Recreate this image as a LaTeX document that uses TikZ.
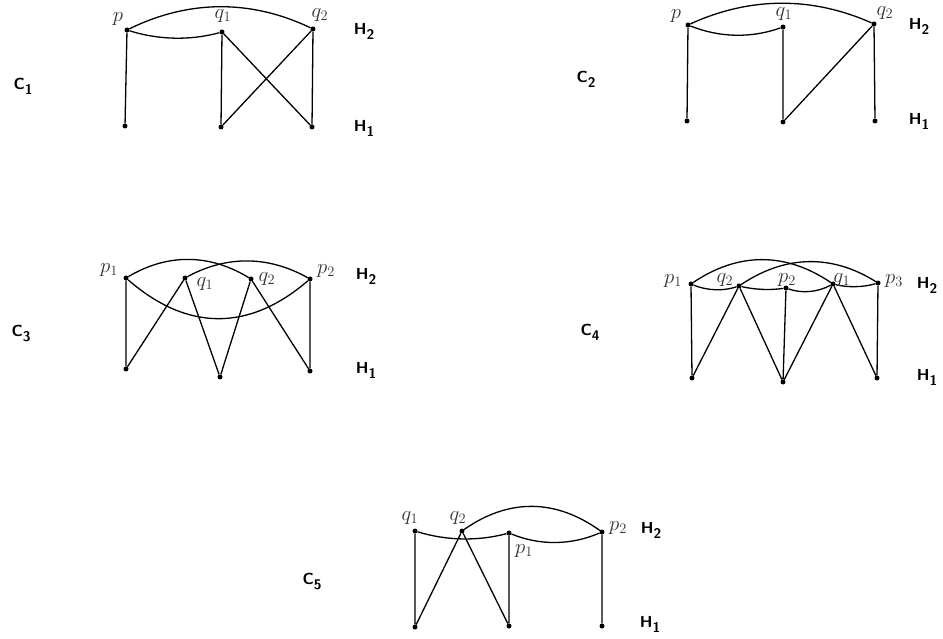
\documentclass[tikz,border=0pt]{standalone}
\usetikzlibrary{calc}
\begin{document}
\begin{tikzpicture}[x=1pt,y=-1pt,
  dot/.style={circle,fill=black,inner sep=0pt,minimum size=5pt},
  edge/.style={line width=1.3pt,black},
  lab/.style={text=black!80,inner sep=0pt,font=\fontsize{20}{22}\selectfont},
  hl/.style={inner sep=0pt,font=\sffamily\bfseries\fontsize{16}{18}\selectfont}]
\useasboundingbox (0,0) rectangle (943,639);
\newcommand{\Hlab}[1]{H\raisebox{-5pt}{\fontsize{14}{16}\selectfont #1}}
\newcommand{\Clab}[1]{C\raisebox{-5pt}{\fontsize{14}{16}\selectfont #1}}

% ---------- C1 ----------
\node[dot] (c1p) at (127,30) {};
\node[dot] (c1q1) at (222,32) {};
\node[dot] (c1q2) at (313,29) {};
\node[dot] (c1a) at (125,126) {};
\node[dot] (c1b) at (221,127) {};
\node[dot] (c1c) at (312,127) {};
\draw[edge] (c1p) .. controls ($(c1p)!1/3!(c1q1)+(0,9.3)$) and ($(c1p)!2/3!(c1q1)+(0,9.3)$) .. (c1q1);
\draw[edge] (c1p) .. controls ($(c1p)!1/3!(c1q2)+(0,-30)$) and ($(c1p)!2/3!(c1q2)+(0,-30)$) .. (c1q2);
\draw[edge] (c1p)--(c1a) (c1q1)--(c1b) (c1q2)--(c1c) (c1q1)--(c1c) (c1q2)--(c1b);
\node[lab] (c1pl) at (118,19) {$p$};
\node[lab] (c1q1l) at (223,16) {$q_1$};
\node[lab] (c1q2l) at (320,15) {$q_2$};
\node[hl] (c1h2) at (364,31) {\Hlab{2}};
\node[hl] (c1h1) at (364,128) {\Hlab{1}};
\node[hl] (c1c) at (23,86) {\Clab{1}};

% ---------- C2 ----------
\node[dot] (c2p) at (688,25) {};
\node[dot] (c2q1) at (783,27) {};
\node[dot] (c2q2) at (874,24) {};
\node[dot] (c2a) at (687,121) {};
\node[dot] (c2b) at (783,122) {};
\node[dot] (c2c) at (875,121) {};
\draw[edge] (c2p) .. controls ($(c2p)!1/3!(c2q1)+(0,12)$) and ($(c2p)!2/3!(c2q1)+(0,12)$) .. (c2q1);
\draw[edge] (c2p) .. controls ($(c2p)!1/3!(c2q2)+(0,-28)$) and ($(c2p)!2/3!(c2q2)+(0,-28)$) .. (c2q2);
\draw[edge] (c2p)--(c2a) (c2q1)--(c2b) (c2q2)--(c2c) (c2q2)--(c2b);
\node[lab] (c2pl) at (676,16) {$p$};
\node[lab] (c2q1l) at (784,14) {$q_1$};
\node[lab] (c2q2l) at (885,13) {$q_2$};
\node[hl] (c2h2) at (919,26) {\Hlab{2}};
\node[hl] (c2h1) at (919,121) {\Hlab{1}};
\node[hl] (c2cl) at (586,79) {\Clab{2}};

% ---------- C3 ----------
\node[dot] (c3p1) at (126,278) {};
\node[dot] (c3q1) at (185,278) {};
\node[dot] (c3q2) at (251,279) {};
\node[dot] (c3p2) at (310,279) {};
\node[dot] (c3a) at (126,369) {};
\node[dot] (c3b) at (220,377) {};
\node[dot] (c3c) at (310,371) {};
\draw[edge] (c3p1) .. controls ($(c3p1)!1/3!(c3q2)+(0,-25)$) and ($(c3p1)!2/3!(c3q2)+(0,-25)$) .. (c3q2);
\draw[edge] (c3q1) .. controls ($(c3q1)!1/3!(c3p2)+(0,-23)$) and ($(c3q1)!2/3!(c3p2)+(0,-23)$) .. (c3p2);
\draw[edge] (c3p1) .. controls ($(c3p1)!1/3!(c3p2)+(0,53)$) and ($(c3p1)!2/3!(c3p2)+(0,53)$) .. (c3p2);
\draw[edge] (c3p1)--(c3a) (c3p2)--(c3c) (c3q1)--(c3a) (c3q1)--(c3b) (c3q2)--(c3b) (c3q2)--(c3c);
\node[lab] (c3p1l) at (109,270) {$p_1$};
\node[lab] (c3q1l) at (205,284) {$q_1$};
\node[lab] (c3q2l) at (267,279) {$q_2$};
\node[lab] (c3p2l) at (326,271) {$p_2$};
\node[hl] (c3h2) at (366,276) {\Hlab{2}};
\node[hl] (c3h1) at (366,370) {\Hlab{1}};
\node[hl] (c3cl) at (21,334) {\Clab{3}};

% ---------- C4 ----------
\node[dot] (c4p1) at (691,284) {};
\node[dot] (c4q2) at (739,286) {};
\node[dot] (c4p2) at (786,288) {};
\node[dot] (c4q1) at (833,284) {};
\node[dot] (c4p3) at (878,283) {};
\node[dot] (c4a) at (692,378) {};
\node[dot] (c4b) at (783,382) {};
\node[dot] (c4c) at (877,378) {};
\draw[edge] (c4p1) .. controls ($(c4p1)!1/3!(c4q1)+(0,-32)$) and ($(c4p1)!2/3!(c4q1)+(0,-32)$) .. (c4q1);
\draw[edge] (c4q2) .. controls ($(c4q2)!1/3!(c4p3)+(0,-30)$) and ($(c4q2)!2/3!(c4p3)+(0,-30)$) .. (c4p3);
\draw[edge] (c4p1) .. controls ($(c4p1)!1/3!(c4q2)+(0,6)$) and ($(c4p1)!2/3!(c4q2)+(0,6)$) .. (c4q2);
\draw[edge] (c4q2) .. controls ($(c4q2)!1/3!(c4p2)+(0,3)$) and ($(c4q2)!2/3!(c4p2)+(0,3)$) .. (c4p2);
\draw[edge] (c4p2) .. controls ($(c4p2)!1/3!(c4q1)+(0,7)$) and ($(c4p2)!2/3!(c4q1)+(0,7)$) .. (c4q1);
\draw[edge] (c4q1) .. controls ($(c4q1)!1/3!(c4p3)+(0,4)$) and ($(c4q1)!2/3!(c4p3)+(0,4)$) .. (c4p3);
\draw[edge] (c4p1)--(c4a) (c4p2)--(c4b) (c4p3)--(c4c) (c4q2)--(c4a) (c4q2)--(c4b) (c4q1)--(c4b) (c4q1)--(c4c);
\node[lab] (c4p1l) at (673,281) {$p_1$};
\node[lab] (c4q2l) at (725,280) {$q_2$};
\node[lab] (c4p2l) at (787,280) {$p_2$};
\node[lab] (c4q1l) at (842,280) {$q_1$};
\node[lab] (c4p3l) at (894,281) {$p_3$};
\node[hl] (c4h2) at (927,285) {\Hlab{2}};
\node[hl] (c4h1) at (927,377) {\Hlab{1}};
\node[hl] (c4cl) at (590,332) {\Clab{4}};

% ---------- C5 ----------
\node[dot] (c5q1) at (415,531) {};
\node[dot] (c5q2) at (462,531) {};
\node[dot] (c5p1) at (509,533) {};
\node[dot] (c5p2) at (602,532) {};
\node[dot] (c5a) at (415,627) {};
\node[dot] (c5b) at (509,626) {};
\node[dot] (c5c) at (602,626) {};
\draw[edge] (c5q1) .. controls ($(c5q1)!1/3!(c5p1)+(0,9)$) and ($(c5q1)!2/3!(c5p1)+(0,9)$) .. (c5p1);
\draw[edge] (c5p1) .. controls ($(c5p1)!1/3!(c5p2)+(0,13)$) and ($(c5p1)!2/3!(c5p2)+(0,13)$) .. (c5p2);
\draw[edge] (c5q2) .. controls ($(c5q2)!1/3!(c5p2)+(0,-33)$) and ($(c5q2)!2/3!(c5p2)+(0,-33)$) .. (c5p2);
\draw[edge] (c5q1)--(c5a) (c5p1)--(c5b) (c5p2)--(c5c) (c5q2)--(c5a) (c5q2)--(c5b);
\node[lab] (c5q1l) at (410,518) {$q_1$};
\node[lab] (c5q2l) at (458,518) {$q_2$};
\node[lab] (c5p1l) at (524,551) {$p_1$};
\node[lab] (c5p2l) at (618,528) {$p_2$};
\node[hl] (c5h2) at (651,530) {\Hlab{2}};
\node[hl] (c5h1) at (650,624) {\Hlab{1}};
\node[hl] (c5cl) at (312,582) {\Clab{5}};
\end{tikzpicture}
\end{document}
